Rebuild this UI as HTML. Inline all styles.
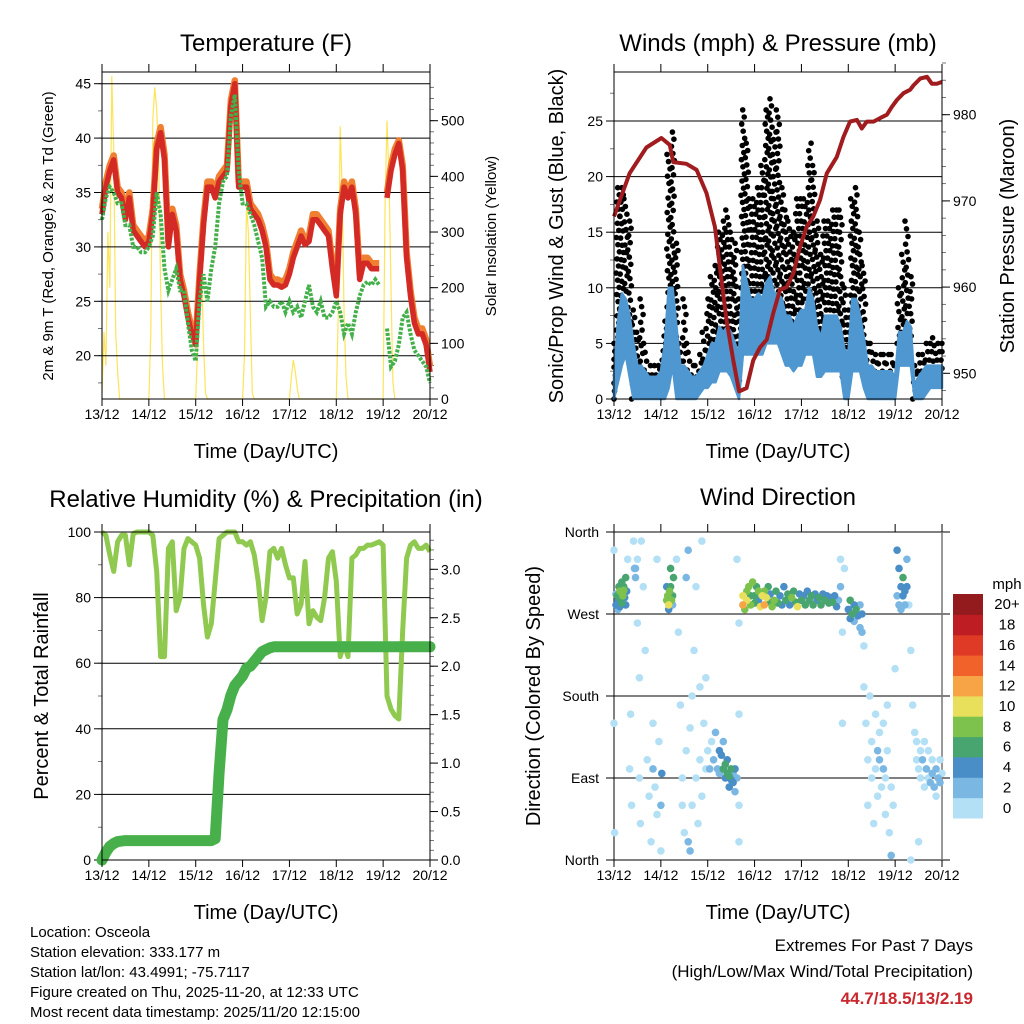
<!DOCTYPE html>
<html><head><meta charset="utf-8"><style>
body{margin:0;background:#fff;width:1024px;height:1024px;overflow:hidden}
svg{display:block;font-family:"Liberation Sans",Arial,sans-serif}
</style></head><body>
<svg id="c" width="1024" height="1024" viewBox="0 0 1024 1024" xmlns="http://www.w3.org/2000/svg">
<g id="layer"></g>
<text x="266" y="51" font-size="24" text-anchor="middle">Temperature (F)</text>
<text x="778" y="51" font-size="24" text-anchor="middle">Winds (mph) &amp; Pressure (mb)</text>
<text x="266" y="507" font-size="24" text-anchor="middle">Relative Humidity (%) &amp; Precipitation (in)</text>
<text x="778" y="505" font-size="24" text-anchor="middle">Wind Direction</text>
<text x="266" y="458" font-size="20" text-anchor="middle">Time (Day/UTC)</text>
<text x="778" y="458" font-size="20" text-anchor="middle">Time (Day/UTC)</text>
<text x="266" y="919" font-size="20" text-anchor="middle">Time (Day/UTC)</text>
<text x="778" y="919" font-size="20" text-anchor="middle">Time (Day/UTC)</text>
<text transform="translate(53,236) rotate(-90)" font-size="15" text-anchor="middle">2m &amp; 9m T (Red, Orange) &amp; 2m Td (Green)</text>
<text transform="translate(496,236) rotate(-90)" font-size="15" text-anchor="middle">Solar Insolation (Yellow)</text>
<text transform="translate(563,236) rotate(-90)" font-size="20" text-anchor="middle">Sonic/Prop Wind &amp; Gust (Blue, Black)</text>
<text transform="translate(1014,236) rotate(-90)" font-size="20" text-anchor="middle">Station Pressure (Maroon)</text>
<text transform="translate(48,696) rotate(-90)" font-size="20" text-anchor="middle">Percent &amp; Total Rainfall</text>
<text transform="translate(540,696) rotate(-90)" font-size="20" text-anchor="middle">Direction (Colored By Speed)</text>
<g font-size="15">
<text x="30" y="937">Location: Osceola</text>
<text x="30" y="957">Station elevation: 333.177 m</text>
<text x="30" y="977">Station lat/lon: 43.4991; -75.7117</text>
<text x="30" y="997">Figure created on Thu, 2025-11-20, at 12:33 UTC</text>
<text x="30" y="1017">Most recent data timestamp: 2025/11/20 12:15:00</text>
</g>
<g text-anchor="end">
<text x="973" y="951" font-size="17">Extremes For Past 7 Days</text>
<text x="973" y="977" font-size="17">(High/Low/Max Wind/Total Precipitation)</text>
<text x="973" y="1004" font-size="17" font-weight="bold" fill="#c8282e">44.7/18.5/13/2.19</text>
</g>
</svg>
<script>
// ---------- data (2-hour steps, hours since 13/12 00 UTC) ----------
const dayLabels = ["13/12","14/12","15/12","16/12","17/12","18/12","19/12","20/12"];
const tempRed = [33,35.5,37,38,35,34.5,32.5,34.5,31.5,31,30.5,30,
30.5,33,39,40.5,38,30,33,31.5,27,25.5,23.5,22,
21,27,32,35.5,35.5,34.5,36,36.5,37,43,45,35.5,
35.5,35.5,33.5,33,32.5,31.5,30,27,26.5,26.5,26.3,26.5,
27.5,29,30,31,30.2,30.5,32.5,32.5,32,31.5,31,28,
25.5,33,35.5,34.5,35.5,33,27,28.5,28.5,28,28,28,
null,34.5,37,38.5,39.5,37,29,25.5,23,22,22,21,18.5];
const tempOrange = [33.5,36,37.5,38.4,35.5,35,33,35,32,31.5,31,30.5,
31,33.5,39.5,41,38.5,30.5,33.5,32,27.5,26,24,22.5,
21.5,27.5,32.5,36,36,35,36.5,37,37.5,43.5,45.3,36,
36,36,34,33.5,33,32,30.5,27.5,27,27,26.8,27,
28,29.5,30.5,31.5,30.7,31,33,33,32.5,32,31.5,28.5,
26,33.5,36,35,36,33.5,27.5,29,29,28.5,28.5,28.5,
null,35,37.5,39,39.8,37.5,29.5,26,23.5,22.5,22.5,21.5,19];
const tempDew = [32.5,34.5,35.5,35,34,34,32,32,30,30,29.5,29.5,
30,31,35,33,28,26,27,28,26,26,23,20.5,
19.5,25,27.5,25,28,30,34,36,36.5,42,44,37,
34,34,33,32,30.5,29,24.5,25,24.5,24.5,25,24,
25,24,24.5,23.5,25,26.5,24.5,24,25,23.5,23.5,24,
25,24,22,23,22,24,25.5,26.5,26.8,26.5,27,26.5,
null,22.5,19,19.5,21,23.5,24,22,20.5,20,19.5,19,17.5];
const solarHours = [0,1,2,3,4,5,6,7,8,9,24,25,26,27,28,29,30,31,32,48,49,50,51,52,53,54,72,73,74,75,76,77,78,96,97,98,99,100,101,120,121,122,123,124,125,126,144,145,146,147,148,149,150];
const solarValues = [10,120,60,300,200,580,450,120,50,0,0,120,500,560,520,440,200,60,0,0,100,150,240,100,10,0,0,80,350,300,150,10,0,0,40,70,50,20,0,0,150,490,380,150,40,0,0,350,500,400,200,30,0];
const pressureHours = [0,8,16.6,24.3,28.6,30.3,37.1,42.3,47.4,51.7,54.2,57.6,61.1,64.1,67.9,71.3,74.8,78.2,81.6,85,88.4,91.9,95.3,98.7,102.1,105.5,109,114.1,117.5,120.9,124.4,126.9,129.5,132.9,136.3,139.8,142.3,144.9,148.3,151.7,153.4,156.9,160.3,162.8,165.4,168];
const pressureValues = [968.2,973.2,976.2,977.3,976.5,974.5,974.3,973.6,970.9,967,962.4,956.2,951.5,947.9,948.3,951.5,953,953.9,957,959.7,960,961.6,964.7,967,968.2,970.1,973.2,975.1,977.4,979.2,979.4,978.4,979.2,979.2,979.6,980,980.9,981.7,982.5,982.9,983.4,984.2,984.4,983.6,983.6,983.8];
const gustLo = [0,3,8,9,5,0,1,2,1,0.5,0.5,0.5, 1,1,5,8,3,1,2,1,0.5,1,1,2, 3,4,4,5,5,5,5,3,1,10,10,9, 9,9,9,10,11,10,9,8,7,7,7,8, 8,9,9,8,5,5,6,6,6,6,5,2, 2,6,6,5,3,2,1,1,1.5,1,1.5,1, 1,5,6,7,5,0,1,1,2,2,2,2,2];
const gustHi = [5,19,19,18,16,8,6,9,5,3,3,3, 3.5,7,22,24,14,5,9,5,3,3,4,6, 9,11,12,15,16,17,15,14,9,26,23,18, 18,19,21,26,27,24,26,19,17,16,15,18, 18,18,23,21,16,13,16,16,17,17,17,10, 8,18,19,15,12,5,5,4,4,4,4,4, 3,10,13,16,11,3,4,4,5,5,5.5,5,5];
const windLo = [0,1.5,3,4,2,0,0,0,0,0,0,0, 0,0,1,3,0,0,0,0,0,0,0.5,1, 1,1.5,1.5,2.5,2.5,2.5,2,1,0,4,4,4, 4,4,4,5,5,5,5,4,3,3,2.5,3, 3,4,4,4,2,2,2.5,2.5,2.5,2.5,2.5,0, 0,2.5,2.5,2.5,1,0,0,0,0,0,0,0, 0,3,3,3,3,0,0,0,0.5,1,1,1,1];
const windHi = [2,7,9.5,9,7.5,5,3,3,2.5,2,2,2, 2.5,5,10,10,6.5,3,3,2.5,2,2,2.5,3, 4,5,5,6.5,6,6.5,6,5,4,12,10.5,9, 9,9.5,9,10.5,11,9.5,9.5,9,7.5,7.5,6.5,7.5, 8,8,10,9,6.5,5.5,7.5,7.5,7.5,7.5,6.5,4.5, 4,9,9,7.5,5.5,3,3,2.5,2.5,2.5,2.5,2.5, 2,6,6,7,6.5,1,2,2.5,3,3,3,3,3];
const humidity = [100,99,93,88,97,99,99,90,99.5,100,100,100, 100,99,88,62,62,95,97,76,80,95,98,97, 96,92,78,68,72,85,98,99,100,100,100,97, 97,96,97,93,85,73,80,94,95,92,95,90, 86,86,75,78,91,72,76,74,73,80,92,94, 85,62,66,62,92,93,95,95,96,96,96.5,97, 96,50,46,44,43,70,92,96,97,95,95,96,94];
const precip = [0,0.08,0.14,0.17,0.19,0.195,0.2,0.2,0.2,0.2,0.2,0.2, 0.2,0.2,0.2,0.2,0.2,0.2,0.2,0.2,0.2,0.2,0.2,0.2, 0.2,0.2,0.2,0.2,0.2,0.22,0.9,1.45,1.55,1.7,1.8,1.85, 1.9,1.98,2.0,2.05,2.1,2.15,2.17,2.19,2.2,2.2,2.2,2.2, 2.2,2.2,2.2,2.2,2.2,2.2,2.2,2.2,2.2,2.2,2.2,2.2, 2.2,2.2,2.2,2.2,2.2,2.2,2.2,2.2,2.2,2.2,2.2,2.2, 2.2,2.2,2.2,2.2,2.2,2.2,2.2,2.2,2.2,2.2,2.2,2.2,2.2];
const windDirHours = [1,1.5,2,2.5,3,3.5,4,4.5,5,5.5,6,6.5,2,3,4,5,1,6,
0,0,0.3,7,8,8.5,9,10,10.5,11,11,12,12,13,13,13.5,14,15,16,17,18,19,20,20,21,22,22,23,24,24,24.5,
27,27.5,28,28.5,29,29.5,30,30.5,28,27,29,30,
32,33,34,35,35,36,37,37,38,38,39,39,40,40,41,42,42,43,44,44,45,45,46,47,47,
48,49,50,51,52,53,54,54,55,56,56,57,57,58,58,59,59,60,60,61,61,62,62,63,64,64,64,63,64,
66,66,67,68,68,69,70,70,71,72,72,73,74,74,75,76,77,77,78,79,80,80,81,82,83,84,85,86,87,88,89,90,91,92,93,94,95,96,97,98,99,100,101,102,103,104,105,106,107,108,109,110,111,112,113,114,115,116,116,117,117,118,
120,121,121,122,123,123,124,125,126,126,127,127,128,128,
129,130,130,131,132,132,133,134,134,135,135,136,136,137,138,138,139,139,140,140,141,142,142,143,144,
145,145,146,146,147,147,148,148,149,149,150,150,
151,152,153,154,155,155,156,157,157,158,159,159,160,161,161,162,163,163,164,165,165,166,167,167,168,152,156];
const windDirDeg = [280,290,285,300,295,285,305,290,300,288,310,295,275,278,282,296,292,280,
340,150,30,330,100,160,60,350,320,320,310,330,260,200,90,40,350,300,230,110,70,20,150,100,80,330,50,130,10,60,95,
285,290,280,295,300,285,290,310,275,300,320,280,
330,250,170,90,60,30,120,310,340,20,10,145,60,180,230,300,90,40,110,190,350,70,150,200,100,
120,100,130,110,140,100,120,95,115,100,130,105,90,95,110,92,80,88,100,85,95,75,100,90,60,160,260,330,20,
280,290,275,295,285,300,290,280,305,290,282,300,295,285,278,290,280,295,288,300,283,292,278,285,295,282,290,280,300,285,292,280,288,295,283,278,292,285,290,280,295,285,290,280,292,285,288,280,292,285,290,282,288,283,290,278,285,300,330,150,250,320,
275,285,265,270,280,262,275,268,280,255,250,270,235,190,
150,110,60,180,90,130,40,100,160,120,70,140,110,80,100,150,50,90,120,170,30,5,80,60,210,
290,340,320,280,300,275,310,290,295,280,300,330,
280,230,170,140,130,110,100,120,90,110,80,130,100,90,120,85,95,110,80,100,70,90,85,110,95,0,20];
const windDirSpeed = [4,6,5,7,8,6,7,8,6,5,6,4,3,5,6,8,3,4,
0,0,0,1,0,1,0,0,2,3,2,1,0,0,0,0,0,1,0,0,0,0,1,2,0,0,0,0,0,3,4,
8,9,10,8,6,9,7,6,4,5,6,3,
0,0,0,0,0,0,0,2,2,2,3,0,0,0,0,0,0,0,0,0,0,0,0,0,0,
1,2,1,3,2,2,4,2,4,6,3,6,4,7,5,6,4,4,6,4,3,3,4,2,0,0,0,0,0,
12,10,8,8,10,9,7,8,8,7,6,7,8,4,10,11,12,8,10,6,7,5,9,8,7,6,5,4,5,7,6,5,8,6,7,10,5,6,4,6,5,7,6,6,4,5,6,7,5,6,4,6,5,6,4,5,3,2,0,0,0,0,
5,6,4,6,5,3,6,4,3,3,2,4,1,0,
0,0,0,0,1,0,0,1,1,2,0,0,2,0,2,0,0,1,0,0,0,3,1,0,0,
3,4,4,3,4,2,6,4,5,3,4,2,
0,0,0,0,1,0,1,1,0,2,1,0,2,1,0,2,3,1,2,3,0,2,2,1,1,0,0];
const speedLabels = ["0","2","4","6","8","10","12","14","16","18","20+"];
const speedColors = ["#b4e0f6","#7ab8e3","#4a8ec7","#48a570","#7cc24c","#e8e05a","#f6a446","#f0622a","#de3a26","#bd1d23","#931a1d"];

// ---------- drawing ----------
const NS="http://www.w3.org/2000/svg";
const layer=document.getElementById('layer');
function el(tag,attrs,parent){const e=document.createElementNS(NS,tag);for(const k in attrs)e.setAttribute(k,attrs[k]);(parent||layer).appendChild(e);return e;}
const hours2 = humidity.map((_,i)=>i*2);
function xOf(x0){return t=>x0+t/168*328;}
function pathOf(ts,vs,fx,fy){let d="",pen=false;for(let i=0;i<ts.length;i++){if(vs[i]===null||vs[i]===undefined){pen=false;continue;}d+=(pen?"L":"M")+fx(ts[i]).toFixed(1)+","+fy(vs[i]).toFixed(1);pen=true;}return d;}

function frame(x0,name){
  const g=el('g',{});
  
  
  return g;
}
function xAxis(g,x0,top,bot){
  const fx=xOf(x0);
  dayLabels.forEach((lab,i)=>{
    const x=fx(i*24);
    el('line',{x1:x,x2:x,y1:bot,y2:bot+7,stroke:'#000','stroke-width':1},g);
    el('line',{x1:x,x2:x,y1:top,y2:top-8,stroke:'#000','stroke-width':1},g);
    const t=el('text',{x:x,y:bot+20,'font-size':14,'text-anchor':'middle'},g);
    t.textContent=lab;
    
    
  });
}
function yAxis(g,side,xEdge,ticks,minor,fy,labels,grid,x0,fontSize){
  const dir=side==='left'?-1:1;
  minor.forEach(v=>{const y=fy(v);el('line',{x1:xEdge,x2:xEdge+dir*4,y1:y,y2:y,stroke:'#555','stroke-width':0.8},g);});
  ticks.forEach((v,i)=>{
    const y=fy(v);
    el('line',{x1:xEdge,x2:xEdge+dir*8,y1:y,y2:y,stroke:'#000','stroke-width':1},g);
    if(grid) el('line',{x1:x0,x2:x0+328,y1:y,y2:y,stroke:'#000','stroke-width':1},g);
    const t=el('text',{x:xEdge+dir*11,y:y+5,'font-size':fontSize||14,'text-anchor':side==='left'?'end':'start'},g);
    t.textContent=labels[i];
    
    
  });
}
function range(a,b,s){const r=[];for(let v=a;v<=b+1e-9;v+=s)r.push(+v.toFixed(4));return r;}
function box(g,x0,top,bot){el('rect',{x:x0,y:top,width:328,height:bot-top,fill:'none',stroke:'#000','stroke-width':1},g);}

// Panel 1: temperature
(function(){
  const x0=102,top=72,bot=399,fx=xOf(x0);
  const fy=v=>355.7-(v-20)*10.88, fs=v=>399-v*0.5566;
  const g=frame(x0,'temperature');
  const sol=el('path',{d:pathOf(solarHours,solarValues,fx,fs),fill:'none',stroke:'#fde45a','stroke-width':1.2},g);
  
  
  const t20=[20,25,30,35,40,45];
  yAxis(g,'left',x0,t20,range(17.5,45,2.5),fy,t20.map(String),true,x0);
  const s=[0,100,200,300,400,500];
  yAxis(g,'right',x0+328,s,range(0,560,20),fs,s.map(String),false,x0);
  const o=el('path',{d:pathOf(hours2,tempOrange,fx,fy),fill:'none',stroke:'#f07f31','stroke-width':6.5,'stroke-linejoin':'round'},g);
  
  
  const r=el('path',{d:pathOf(hours2,tempRed,fx,fy),fill:'none',stroke:'#d42a25','stroke-width':5.5,'stroke-linejoin':'round'},g);
  
  
  const d=el('path',{d:pathOf(hours2,tempDew,fx,fy),fill:'none',stroke:'#43b04a','stroke-width':4,'stroke-dasharray':'3 1.5'},g);
  
  
  box(g,x0,top,bot); xAxis(g,x0,top,bot);
})();

// Panel 2: winds & pressure
(function(){
  const x0=614,top=72,bot=399,fx=xOf(x0);
  const fy=v=>399-v*11.12, fp=v=>373.3-(v-950)*8.62;
  const g=frame(x0,'winds');
  const w=[0,5,10,15,20,25];
  yAxis(g,'left',x0,w,range(0,27.5,2.5),fy,w.map(String),true,x0);
  const p=[950,960,970,980];
  yAxis(g,'right',x0+328,p,range(948,986,2),fp,p.map(String),false,x0);
  const gg=el('g',{fill:'#000'},g);
  
  
  for(let i=0;i<hours2.length;i++){
    const lo=gustLo[i],hi=gustHi[i];const n=Math.max(3,Math.round((hi-lo)*1.6));
    for(let j=0;j<n;j++){
      const t=Math.min(168,Math.max(0,hours2[i]-1+((j*0.618)%1)*2));
      const v=lo+(hi-lo)*(j/(n-1));
      const c=el('circle',{cx:fx(t).toFixed(1),cy:fy(v).toFixed(1),r:2.8},gg);
      
      
    }
  }
  let d="";hours2.forEach((t,i)=>{d+=(i?"L":"M")+fx(t).toFixed(1)+","+fy(windHi[i]).toFixed(1);});
  for(let i=hours2.length-1;i>=0;i--)d+="L"+fx(hours2[i]).toFixed(1)+","+fy(windLo[i]).toFixed(1);
  const band=el('path',{d:d+"Z",fill:'#4f97d0',stroke:'#4f97d0','stroke-width':2.5,'stroke-linejoin':'round'},g);
  
  
  const pr=el('path',{d:pathOf(pressureHours,pressureValues,fx,fp),fill:'none',stroke:'#a01c1e','stroke-width':4,'stroke-linejoin':'round'},g);
  
  
  box(g,x0,top,bot); xAxis(g,x0,top,bot);
})();

// Panel 3: RH & precip
(function(){
  const x0=102,top=532,bot=860,fx=xOf(x0);
  const fy=v=>860-v*3.28, fp=v=>860-v*96.9;
  const g=frame(x0,'humidity');
  const h=[0,20,40,60,80,100];
  yAxis(g,'left',x0,h,range(0,100,10),fy,h.map(String),true,x0);
  const p=[0,0.5,1,1.5,2,2.5,3];
  yAxis(g,'right',x0+328,p,range(0,3.3,0.1),fp,p.map(v=>v.toFixed(1)),false,x0);
  const rh=el('path',{d:pathOf(hours2,humidity,fx,fy),fill:'none',stroke:'#8fc94f','stroke-width':5,'stroke-linejoin':'round'},g);
  
  
  const pc=el('path',{d:pathOf(hours2,precip,fx,fp),fill:'none',stroke:'#47b04a','stroke-width':11,'stroke-linejoin':'round','stroke-linecap':'round'},g);
  
  
  box(g,x0,top,bot); xAxis(g,x0,top,bot);
})();

// Panel 4: wind direction
(function(){
  const x0=614,top=532,bot=860,fx=xOf(x0);
  const fy=d=>860-d/360*328;
  const g=frame(x0,'direction');
  const dirs=[0,90,180,270,360],names=["North","East","South","West","North"];
  dirs.forEach((v,i)=>{
    const y=fy(v);
    el('line',{x1:x0-8,x2:x0+336,y1:y,y2:y,stroke:'#000','stroke-width':1},g);
    const t=el('text',{x:x0-15,y:y+5,'font-size':14,'text-anchor':'end'},g);
    t.textContent=names[i];
    
    
  });
  el('line',{x1:x0,x2:x0,y1:top,y2:bot,stroke:'#000'},g);
  el('line',{x1:x0+328,x2:x0+328,y1:top,y2:bot,stroke:'#777','stroke-width':1.5},g);
  const n=Math.min(windDirHours.length,windDirDeg.length,windDirSpeed.length);
  const idx=[...Array(n).keys()].sort((a,b)=>windDirSpeed[a]-windDirSpeed[b]);
  const pg=el('g',{},g);
  
  
  idx.forEach(i=>{
    const ci=Math.min(10,Math.floor(windDirSpeed[i]/2));
    const c=el('circle',{cx:fx(windDirHours[i]).toFixed(1),cy:fy(windDirDeg[i]).toFixed(1),r:3.8,fill:speedColors[ci]},pg);
    
    
  });
  xAxis(g,x0,top,bot);
  const lg=el('g',{},g);
  
  
  const mt=el('text',{x:1007,y:589,'font-size':15,'text-anchor':'middle'},lg);
  mt.textContent='mph';
  
  
  const bh=224/11;
  speedLabels.forEach((lab,k)=>{
    const y=594+(10-k)*bh;
    const r=el('rect',{x:953,y:y.toFixed(1),width:30,height:(bh+0.5).toFixed(1),fill:speedColors[k]},lg);
    
    
    const t=el('text',{x:1007,y:(y+bh/2+5).toFixed(1),'font-size':15,'text-anchor':'middle'},lg);
    t.textContent=lab;
    
    
  });
})();
</script>
</body></html>
